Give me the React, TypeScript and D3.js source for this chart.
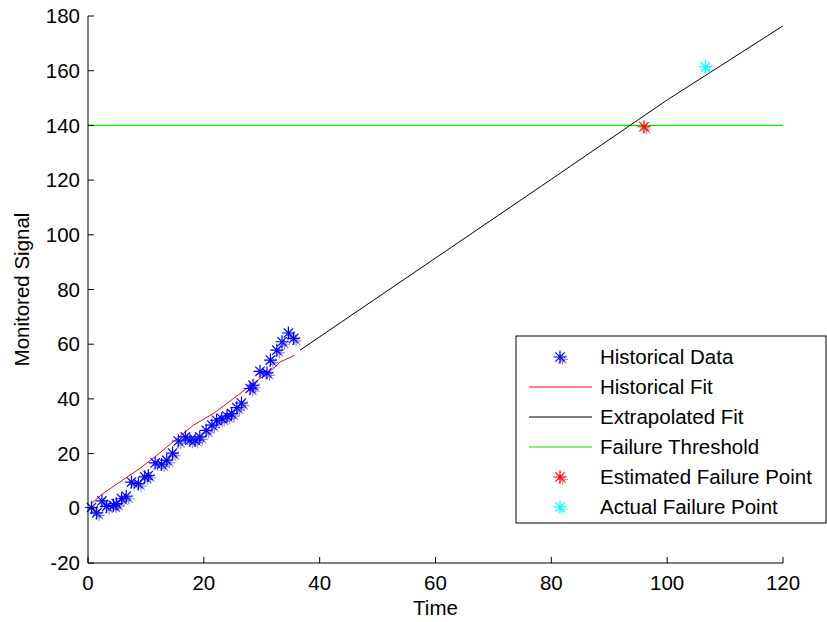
import React from 'react';
import * as d3 from 'd3';

// ---- data ----
const histTime = [0.6, 1.5, 2.4, 3.2, 4.4, 4.9, 5.8, 6.6, 7.5, 8.7, 9.8, 10.4, 11.6, 12.7, 13.6, 14.6, 15.6, 16.8, 17.6, 18.5, 19.3, 20.4, 21.4, 22.2, 23.1, 24.0, 24.8, 25.7, 26.5, 28.0, 28.5, 29.7, 30.9, 31.5, 32.6, 33.5, 34.6, 35.5];
const histValue = [0.3, -1.7, 2.7, 0.7, 1.1, 1.7, 3.5, 4.4, 9.6, 9.0, 11.5, 12.0, 16.6, 16.1, 17.6, 20.2, 24.6, 26.1, 24.9, 24.9, 26.1, 28.5, 30.4, 32.2, 32.8, 33.7, 34.6, 36.8, 38.5, 43.8, 45.0, 50.1, 49.5, 54.2, 57.8, 60.9, 64.1, 62.1];

const fitTime = [0.6, 2.4, 5.5, 9.3, 11.9, 14.7, 18.2, 21.6, 25.1, 28.5, 31.7, 33.2, 35.7];
const fitValue = [1.7, 5.1, 9.6, 15.1, 19.4, 24.3, 30.4, 34.6, 40.1, 45.6, 50.5, 53.5, 56.0];

const extrapTime = [36.6, 60, 80, 100, 120];
const extrapValue = [57.8, 91.5, 120.3, 149.3, 176.4];

const thresholdTime = [0, 120];
const thresholdValue = [140, 140];

const estFailureTime = [96];
const estFailureValue = [139.5];
const actualFailureTime = [106.6];
const actualFailureValue = [161.4];

const xTicks = [0, 20, 40, 60, 80, 100, 120];
const yTicks = [-20, 0, 20, 40, 60, 80, 100, 120, 140, 160, 180];

const legendLabels = ['Historical Data', 'Historical Fit', 'Extrapolated Fit', 'Failure Threshold', 'Estimated Failure Point', 'Actual Failure Point'];
const legendKinds = ['marker', 'line', 'line', 'line', 'marker', 'marker'];
const legendColors = ['#0000ff', '#ff0000', '#000000', '#00ee00', '#ff0000', '#00ffff'];

const FONT = '"Liberation Sans", Arial, sans-serif';
const FS = 20.5;

function starPath(cx: number, cy: number, r: number) {
  const d = r * 0.72;
  return `M${cx - r},${cy}L${cx + r},${cy}M${cx},${cy - r}L${cx},${cy + r}` +
    `M${cx - d},${cy - d}L${cx + d},${cy + d}M${cx - d},${cy + d}L${cx + d},${cy - d}`;
}

function Star({ x, y, color }: { x: number; y: number; color: string }) {
  return (
    <g>
      <path d={starPath(x + 2.5, y + 2.5, 5.5)} stroke={color} strokeWidth={1.2} opacity={0.45} fill="none" />
      <path d={starPath(x, y, 6.5)} stroke={color} strokeWidth={1.2} fill="none" />
    </g>
  );
}

export default function App() {
  const x = d3.scaleLinear().domain([0, 120]).range([88, 783]);
  const y = d3.scaleLinear().domain([-20, 180]).range([563, 16]);

  const line = d3.line<[number, number]>().x(d => x(d[0])).y(d => y(d[1]));
  const fitPts = fitTime.map((t, i) => [t, fitValue[i]] as [number, number]);
  const extPts = extrapTime.map((t, i) => [t, extrapValue[i]] as [number, number]);
  const thrPts = thresholdTime.map((t, i) => [t, thresholdValue[i]] as [number, number]);

  const left = x(0);
  const bottom = y(-20);
  const top = y(180);
  const right = x(120);

  const legX = 516, legY = 336, legW = 310, legH = 187;
  const rowH = 30;

  return (
    <svg width={827} height={622} style={{ position: 'absolute', left: 0, top: 0, background: '#fff' }} fontFamily={FONT}>
      <rect x={0} y={0} width={827} height={622} fill="#fff" />

      {/* threshold */}
      <path d={line(thrPts) || ''} stroke="#00ee00" strokeWidth={1.3} fill="none" />
      {/* extrapolated fit */}
      <path d={line(extPts) || ''} stroke="#000" strokeWidth={1} fill="none" />
      {/* historical fit */}
      <path d={line(fitPts) || ''} stroke="#ff0000" strokeWidth={1} fill="none" />
      {/* historical data */}
      {histTime.map((t, i) => (
        <Star key={i} x={x(t)} y={y(histValue[i])} color="#0000ff" />
      ))}
      {estFailureTime.map((t, i) => (
        <Star key={'e' + i} x={x(t)} y={y(estFailureValue[i])} color="#ff0000" />
      ))}
      {actualFailureTime.map((t, i) => (
        <Star key={'a' + i} x={x(t)} y={y(actualFailureValue[i])} color="#00ffff" />
      ))}

      {/* axes */}
      <line x1={left} x2={left} y1={top} y2={bottom} stroke="#000" strokeWidth={1} />
      <line x1={left} x2={right} y1={bottom} y2={bottom} stroke="#000" strokeWidth={1} />
      {yTicks.map(v => (
        <g key={'y' + v}>
          <line x1={left} x2={left + 6} y1={y(v)} y2={y(v)} stroke="#000" />
          <text x={80} y={y(v)} dy="0.35em" textAnchor="end" fontSize={FS} fill="#000">{v}</text>
        </g>
      ))}
      {xTicks.map(v => (
        <g key={'x' + v}>
          <line x1={x(v)} x2={x(v)} y1={bottom} y2={bottom - 6} stroke="#000" />
          <text x={x(v)} y={590} textAnchor="middle" fontSize={FS} fill="#000">{v}</text>
        </g>
      ))}
      <text x={(left + right) / 2} y={615} textAnchor="middle" fontSize={FS} fill="#000">Time</text>
      <text transform={`translate(29,${(top + bottom) / 2}) rotate(-90)`} textAnchor="middle" fontSize={FS} fill="#000">Monitored Signal</text>

      {/* legend */}
      <rect x={legX} y={legY} width={legW} height={legH} fill="#fff" stroke="#000" strokeWidth={1} />
      {legendLabels.map((lab, i) => {
        const cy = legY + 21 + i * rowH;
        return (
          <g key={lab}>
            {legendKinds[i] === 'line' ? (
              <line x1={529} x2={592} y1={cy} y2={cy} stroke={legendColors[i]} strokeWidth={1} />
            ) : (
              <Star x={560} y={cy} color={legendColors[i]} />
            )}
            <text x={600} y={cy} dy="0.35em" fontSize={FS} fill="#000">{lab}</text>
          </g>
        );
      })}
    </svg>
  );
}
